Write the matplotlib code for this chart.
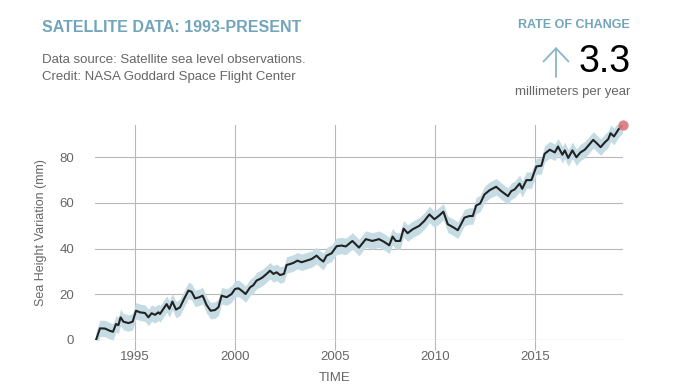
import matplotlib
matplotlib.use("Agg")
import matplotlib.pyplot as plt
import numpy as np

plt.rcParams['font.family'] = ['Liberation Sans', 'DejaVu Sans']

# ------------------------------
# Data
# ------------------------------
years = [
    1993.05, 1993.25, 1993.5, 1993.75, 1993.9, 1994.05, 1994.17, 1994.28, 1994.42, 1994.67,
    1994.88, 1995.05, 1995.25, 1995.5, 1995.67, 1995.83, 1996.0, 1996.17, 1996.25, 1996.42,
    1996.58, 1996.72, 1996.87, 1997.05, 1997.25, 1997.45, 1997.67, 1997.83, 1998.0, 1998.22,
    1998.38, 1998.58, 1998.78, 1999.0, 1999.17, 1999.33, 1999.58, 1999.83, 2000.0, 2000.17,
    2000.33, 2000.53, 2000.75, 2000.92, 2001.08, 2001.25, 2001.38, 2001.58, 2001.75, 2001.92,
    2002.08, 2002.25, 2002.45, 2002.58, 2002.75, 2002.92, 2003.12, 2003.33, 2003.58, 2003.83,
    2004.08, 2004.25, 2004.42, 2004.58, 2004.83, 2005.08, 2005.33, 2005.54, 2005.87, 2006.2,
    2006.54, 2006.87, 2007.2, 2007.46, 2007.71, 2007.88, 2008.04, 2008.26, 2008.43, 2008.63,
    2008.88, 2009.21, 2009.46, 2009.72, 2009.97, 2010.22, 2010.42, 2010.64, 2010.89, 2011.14,
    2011.3, 2011.47, 2011.72, 2011.89, 2012.06, 2012.26, 2012.47, 2012.73, 2013.06, 2013.31,
    2013.65, 2013.81, 2013.98, 2014.23, 2014.36, 2014.57, 2014.82, 2015.07, 2015.32, 2015.48,
    2015.74, 2015.99, 2016.15, 2016.37, 2016.49, 2016.66, 2016.87, 2017.07, 2017.27, 2017.49,
    2017.66, 2017.91, 2018.08, 2018.28, 2018.49, 2018.66, 2018.78, 2018.95, 2019.16, 2019.38,
]
sea_level_mm = [
    0.0, 5.1, 5.0, 4.0, 3.6, 7.0, 6.5, 9.9, 8.0, 7.4,
    8.0, 12.8, 12.1, 11.8, 9.9, 11.7, 11.0, 12.1, 11.4, 13.6,
    15.7, 13.6, 16.8, 13.3, 14.3, 17.9, 21.6, 21.1, 18.2, 18.7,
    19.4, 15.3, 12.8, 13.1, 14.3, 19.4, 18.7, 20.1, 22.3, 22.6,
    21.6, 20.1, 23.0, 24.0, 26.0, 26.7, 27.4, 28.9, 30.3, 28.9,
    29.6, 28.4, 28.9, 32.8, 33.2, 33.7, 34.7, 34.0, 34.7, 35.4,
    36.9, 35.4, 34.3, 36.9, 37.9, 41.0, 41.3, 40.9, 43.3, 40.4,
    44.1, 43.3, 44.1, 42.9, 41.4, 45.2, 43.3, 43.3, 48.7, 46.7,
    48.4, 49.9, 52.0, 54.9, 52.8, 54.5, 56.1, 50.6, 49.4, 48.0,
    50.6, 53.5, 54.2, 54.2, 58.8, 59.7, 63.6, 65.5, 67.0, 65.1,
    62.9, 65.1, 65.8, 68.4, 66.1, 69.9, 69.9, 75.9, 76.2, 81.4,
    83.2, 82.0, 84.6, 81.0, 82.9, 79.6, 82.9, 79.9, 82.0, 83.2,
    84.9, 87.5, 86.1, 84.3, 86.4, 87.8, 90.4, 89.0, 91.9, 94.1,
]
uncertainty_mm = 3.6
x_ticks = [1995, 2000, 2005, 2010, 2015]
y_ticks = [0, 20, 40, 60, 80]
rate_of_change = "3.3"

BLUE = '#71a5bb'
GRAY_TXT = '#666666'
GRID = '#b8b8b8'

fig = plt.figure(figsize=(6.84, 3.88), dpi=100)
ax = fig.add_axes([95/684, 1 - 340/388, 528/684, 215/388])

yrs = np.array(years)
vals = np.array(sea_level_mm)
ax.fill_between(yrs, vals - uncertainty_mm, vals + uncertainty_mm,
                color='#c6dce4', linewidth=0, zorder=2)
ax.plot(yrs, vals, color='#222222', linewidth=1.5, zorder=3)
ax.scatter([yrs[-1]], [vals[-1]], s=55, color='#d9777c', alpha=0.9,
           zorder=4, clip_on=False, linewidths=0)

ax.set_xlim(1993.0, 2019.4)
ax.set_ylim(0, 94)
ax.set_xticks(x_ticks)
ax.set_yticks(y_ticks)
ax.grid(True, color=GRID, linewidth=0.8, zorder=1)
for s in ax.spines.values():
    s.set_visible(False)
ax.axhline(0, color=GRID, linewidth=0.8, zorder=1)
ax.tick_params(axis='x', length=7, width=0.8, color=GRID, labelsize=9.5,
               labelcolor=GRAY_TXT, pad=1)
ax.tick_params(axis='y', length=0, labelsize=9.5, labelcolor=GRAY_TXT, pad=15)
ax.set_ylabel("Sea Height Variation (mm)", fontsize=9, color=GRAY_TXT, labelpad=9)

fig.text(335/684, 1 - 378/388, "TIME", ha='center', va='center',
         fontsize=9.5, color=GRAY_TXT)

# header texts
fig.text(42/684, 1 - 27/388, "SATELLITE DATA: 1993-PRESENT", ha='left', va='center',
         fontsize=11.5, fontweight='bold', color=BLUE)
fig.text(42/684, 1 - 60/388, "Data source: Satellite sea level observations.",
         ha='left', va='center', fontsize=9.5, color=GRAY_TXT)
fig.text(42/684, 1 - 77/388, "Credit: NASA Goddard Space Flight Center",
         ha='left', va='center', fontsize=9.5, color=GRAY_TXT)

fig.text(630/684, 1 - 25.5/388, "RATE OF CHANGE", ha='right', va='center',
         fontsize=9, fontweight='bold', color=BLUE)
fig.text(631/684, 1 - 62/388, rate_of_change, ha='right', va='center',
         fontsize=27, color='black')
fig.text(630/684, 1 - 92/388, "millimeters per year", ha='right', va='center',
         fontsize=9.5, color=GRAY_TXT)
fig.add_artist(matplotlib.patches.FancyArrowPatch(
    (556/684, 1 - 77/388), (556/684, 1 - 47/388), transform=fig.transFigure,
    arrowstyle='->,head_length=9.5,head_width=9', color='#8ab6c6', linewidth=1.3,
    mutation_scale=1, shrinkA=0, shrinkB=0))

fig.savefig("out.png", dpi=100)
